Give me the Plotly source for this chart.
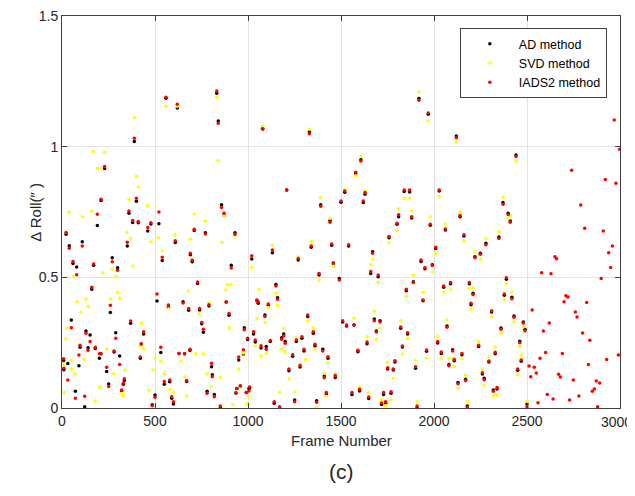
import plotly.graph_objects as go

# AD / IADS2 paired frames (frame, AD value, IADS2 value)
pair_frames = [9, 10, 22, 31, 39, 50, 59, 72, 79, 91, 97, 109, 122, 129, 140, 151, 160, 170, 179, 190,
               201, 209, 210, 229, 240, 251, 260, 270, 280, 289, 299, 310, 321, 330, 335, 351, 360, 369, 380, 389,
               400, 410, 421, 426, 439, 461, 478, 485, 500, 511, 521, 531, 539, 550, 559, 572, 579, 590, 599, 609,
               620, 629, 651, 659, 670, 681, 688, 690, 700, 711, 729, 740, 751, 760, 771, 780, 790, 804, 808, 819,
               832, 840, 851, 858, 871, 883, 898, 910, 930, 935, 940, 950, 959, 975, 980, 991, 998, 1005, 1009, 1020,
               1030, 1039, 1048, 1055, 1070, 1079, 1091, 1098, 1109, 1120, 1131, 1141, 1150, 1159, 1170, 1181, 1192, 1200, 1208, 1220,
               1240, 1251, 1260, 1270, 1280, 1290, 1301, 1321, 1330, 1340, 1351, 1360, 1369, 1382, 1391, 1402, 1410, 1421, 1430, 1441,
               1450, 1459, 1469, 1491, 1500, 1509, 1520, 1530, 1541, 1559, 1570, 1579, 1591, 1600, 1607, 1620, 1629, 1640, 1649, 1660,
               1670, 1679, 1690, 1700, 1710, 1718, 1729, 1740, 1751, 1758, 1769, 1781, 1790, 1801, 1810, 1821, 1830, 1840, 1851, 1858,
               1869, 1880, 1889, 1901, 1909, 1919, 1930, 1941, 1951, 1960, 1969, 1980, 1991, 2009, 2020, 2028, 2039, 2052, 2061, 2070,
               2080, 2089, 2100, 2109, 2120, 2129, 2140, 2150, 2161, 2170, 2179, 2190, 2199, 2210, 2220, 2240, 2249, 2260, 2270, 2279,
               2295, 2310, 2319, 2329, 2339, 2349, 2360, 2371, 2378, 2389, 2399, 2410, 2419, 2430, 2441, 2450, 2461, 2469, 2480, 2489,
               2500]
ad_values = [.182, .146, .665, .170, .621, .337, .553, .064, .540, .162, .232, .636, .005, .295, .231, .279, .454, .546, .228, .698,
             .190, .208, .794, .916, .140, .092, .365, .575, .214, .288, .537, .199, .065, .091, .105, .620, .745, .324, .710, 1.020,
             .791, .709, .190, .245, .283, .677, .704, .012, .050, .409, .705, .212, .564, .091, 1.185, .385, .100, .037, .015, .633,
             1.148, .209, .407, .208, .101, .374, .220, .586, .560, .679, .476, .375, .322, .290, .671, .064, .390, .158, .127, .052,
             1.204, 1.098, .000, .778, .737, .406, .355, .546, .671, .057, .075, .184, .084, .207, .307, .059, .262, .075, .077, .570,
             .283, .253, .410, .401, .230, 1.070, .356, .235, .392, .254, .594, .018, .473, .422, .000, .269, .283, .254, .834, .143,
             .198, .031, .254, .566, .157, .267, .218, .350, 1.056, .615, .286, .237, .028, .509, .778, .225, .122, .052, .190, .717,
             .623, .551, .117, .496, .787, .329, .826, .314, .620, .052, .318, .896, .215, .065, .950, .786, .818, .246, .036, .515,
             .598, .341, .295, .502, .334, .013, .052, .018, .149, .651, .056, .145, .176, .703, .732, .305, .233, .828, .449, .283,
             .827, .727, .483, .152, .001, 1.184, .561, .410, .533, .217, 1.124, .699, .548, .610, .249, .830, .209, .462, .681, .314,
             .166, .475, .223, .181, 1.041, .098, .732, .204, .658, .110, .008, .475, .395, .439, .579, .235, .592, .130, .114, .630,
             .176, .367, .069, .208, .073, .654, .306, .786, .431, .493, .745, .716, .424, .352, .968, .144, .255, .179, .329, .301,
             .015]
iads_values = [.188, .152, .672, .107, .611, .307, .561, .037, .510, .203, .240, .620, .045, .286, .221, .254, .462, .551, .232, .741,
               .208, .208, .799, .924, .156, .082, .393, .560, .218, .267, .527, .166, .069, .095, .112, .634, .754, .333, .717, 1.032,
               .803, .714, .195, .245, .292, .691, .709, .009, .041, .436, .750, .232, .577, .101, 1.189, .394, .107, .043, .024, .640,
               1.162, .209, .402, .208, .105, .381, .225, .592, .565, .684, .482, .381, .327, .301, .666, .056, .395, .171, .120, .043,
               1.213, 1.090, .008, .767, .745, .406, .362, .536, .665, .057, .075, .195, .084, .223, .299, .059, .267, .065, .080, .583,
               .292, .260, .413, .407, .238, 1.067, .350, .225, .398, .258, .605, .024, .467, .416, .005, .263, .276, .248, .834, .149,
               .204, .024, .260, .572, .163, .273, .225, .356, 1.049, .620, .292, .244, .022, .515, .772, .218, .116, .059, .196, .711,
               .628, .556, .124, .490, .792, .334, .830, .318, .625, .059, .318, .902, .221, .072, .945, .792, .825, .253, .042, .522,
               .592, .334, .291, .509, .329, .019, .059, .024, .154, .656, .062, .149, .181, .707, .739, .310, .237, .834, .454, .288,
               .834, .732, .480, .158, .008, 1.178, .566, .413, .537, .222, 1.129, .703, .545, .615, .254, .834, .214, .467, .685, .309,
               .162, .480, .218, .186, 1.034, .093, .737, .209, .663, .105, .003, .480, .401, .434, .575, .240, .588, .135, .108, .625,
               .180, .372, .064, .213, .078, .649, .301, .780, .436, .498, .740, .711, .418, .347, .962, .149, .250, .184, .325, .296,
               .005]

# IADS2 frames beyond the AD / SVD range
iads_extra_frames = [2511, 2520, 2528, 2539, 2550, 2559, 2570, 2579, 2588, 2600, 2609, 2620, 2629, 2640, 2650, 2659, 2670,
                     2679, 2690, 2699, 2709, 2720, 2729, 2740, 2749, 2760, 2769, 2779, 2789, 2799, 2810, 2821, 2830, 2838,
                     2851, 2862, 2872, 2880, 2891, 2899, 2910, 2921, 2928, 2939, 2950, 2959, 2969, 2978, 2991, 2998]
iads_extra_values = [.161, .120, .375, .156, .134, .020, .190, .518, .295, .212, .052, .325, .514, .034, .579, .571, .129,
                     .119, .209, .407, .430, .425, .031, .910, .107, .367, .348, .046, .777, .287, .688, .404, .166, .259,
                     .064, .073, .103, .005, .096, .496, .677, .874, .186, .594, .538, .620, 1.102, .860, .203, .990]

# SVD frames and values
svd_frames = [8, 12, 20, 28, 38, 50, 52, 61, 70, 81, 101, 109, 120, 129, 141, 160, 168, 179, 190, 201,
              211, 219, 229, 240, 262, 270, 278, 290, 299, 310, 321, 330, 339, 348, 360, 369, 380, 389, 400, 410,
              418, 428, 439, 459, 468, 478, 489, 500, 518, 531, 539, 550, 559, 572, 581, 599, 607, 620, 640, 660,
              670, 679, 690, 700, 711, 719, 737, 760, 771, 781, 790, 801, 832, 839, 851, 860, 871, 880, 889, 900,
              908, 918, 930, 950, 959, 975, 990, 1000, 1005, 1020, 1039, 1048, 1059, 1070, 1079, 1091, 1098, 1109, 1131, 1150,
              1159, 1170, 1181, 1192, 1200, 1220, 1251, 1260, 1270, 1280, 1310, 1321, 1330, 1340, 1351, 1360, 1369, 1382, 1389, 1410,
              1421, 1430, 1441, 1459, 1469, 1520, 1570, 1579, 1600, 1607, 1629, 1640, 1649, 1660, 1670, 1679, 1690, 1700, 1710, 1718,
              1740, 1751, 1758, 1769, 1781, 1801, 1808, 1821, 1830, 1840, 1851, 1858, 1869, 1880, 1889, 1901, 1909, 1919, 1941, 1951,
              1960, 1969, 1980, 1991, 2009, 2020, 2028, 2039, 2052, 2061, 2070, 2080, 2089, 2100, 2109, 2120, 2129, 2140, 2150, 2161,
              2170, 2179, 2190, 2199, 2210, 2220, 2240, 2249, 2260, 2270, 2279, 2295, 2310, 2319, 2329, 2339, 2349, 2360, 2371, 2378,
              2389, 2399, 2410, 2419, 2430, 2441, 2450, 2461, 2469, 2480, 2500]
svd_values = [.167, .059, .265, .305, .749, .149, .183, .504, .130, .407, .366, .732, .186, .416, .388, .754, .982, .027, .917, .080,
              .917, .518, .979, .225, .417, .532, .131, .504, .442, .421, .056, .048, .145, .672, .799, .649, .543, 1.112, .887, .846,
              .238, .324, .226, .774, .068, .636, .145, .191, .651, .180, .602, .131, 1.155, .380, .072, .060, .662, 1.155, .180, .120,
              .046, .448, .646, .569, .742, .209, .362, .208, .716, .130, .403, .082, 1.189, .947, .117, .633, .737, .452, .472, .306,
              .473, .013, .660, .149, .080, .210, .013, .018, .042, .538, .236, .342, .454, .200, 1.079, .327, .209, .385, .624, .439,
              .392, .060, .226, .304, .215, .112, .060, .270, .579, .167, .186, .334, 1.068, .636, .306, .226, .002, .490, .805, .133,
              .045, .174, .726, .543, .130, .838, .343, .889, .080, .963, .832, .273, .059, .549, .569, .370, .263, .481, .305, .032,
              .010, .175, .633, .032, .113, .679, .762, .334, .207, .803, .427, .267, .803, .754, .508, .182, .024, 1.209, .443, .540,
              .190, 1.098, .732, .520, .589, .275, .809, .190, .444, .704, .337, .190, .454, .190, .160, 1.019, .075, .751, .188, .640,
              .125, .026, .458, .378, .460, .597, .254, .569, .149, .087, .648, .197, .349, .046, .233, .051, .674, .286, .806, .415,
              .476, .725, .735, .443, .329, .945, .127, .235, .202, .310, .026]

x_ticks = [0, 500, 1000, 1500, 2000, 2500, 3000]
x_tick_labels = ["0", "500", "1000", "1500", "2000", "2500", "3000"]
y_ticks = [0, 0.5, 1, 1.5]
y_tick_labels = ["0", "0.5", "1", "1.5"]

FONT = "Liberation Sans, Arial, sans-serif"
AX = "#262626"

fig = go.Figure()
fig.add_trace(go.Scatter(x=pair_frames, y=ad_values, mode="markers", name="AD method",
                         marker=dict(color="black", size=3.5)))
fig.add_trace(go.Scatter(x=svd_frames, y=svd_values, mode="markers", name="SVD method",
                         marker=dict(color="#FFFF00", size=3.5)))
fig.add_trace(go.Scatter(x=pair_frames + iads_extra_frames, y=iads_values + iads_extra_values, mode="markers",
                         name="IADS2 method", marker=dict(color="#FF0000", size=3.5)))

axis_common = dict(showline=True, linecolor="#404040", linewidth=1, mirror="allticks", ticks="inside", ticklen=5,
                   tickcolor="#404040", showgrid=True, gridcolor="#E3E3E3", gridwidth=1, zeroline=False,
                   automargin=False, ticklabeloverflow="allow",
                   tickfont=dict(family=FONT, size=14, color=AX))
# the last x label sits at the window edge, so it is drawn right-anchored as an annotation
fig.update_xaxes(range=[0, 3000], tickvals=x_ticks, ticktext=x_tick_labels[:-1] + [""], **axis_common)
fig.update_yaxes(range=[0, 1.5], tickvals=y_ticks, ticktext=y_tick_labels, **axis_common)

fig.add_annotation(text=x_tick_labels[-1], xref="paper", yref="paper", x=1.025, y=-0.036, xanchor="right",
                   yanchor="middle", showarrow=False, font=dict(family=FONT, size=14, color=AX))
fig.add_annotation(text="Frame Number", xref="paper", yref="paper", x=0.5, y=-0.084, yanchor="middle",
                   showarrow=False, font=dict(family=FONT, size=15, color=AX))
fig.add_annotation(text="Δ Roll(″ )", xref="paper", yref="paper", x=-0.049, y=0.5, xanchor="center",
                   yanchor="middle", textangle=-90, showarrow=False, font=dict(family=FONT, size=15, color=AX))
fig.add_annotation(text="(c)", xref="paper", yref="paper", x=0.5, y=-0.163, yanchor="middle", showarrow=False,
                   font=dict(family=FONT, size=21, color=AX))

# the page body adds an 8px offset, so the figure is sized to fill the rest of the window
fig.update_layout(
    width=627, height=488,
    margin=dict(l=54, r=15, t=8, b=88),
    plot_bgcolor="white", paper_bgcolor="white",
    showlegend=True,
    legend=dict(x=0.713, y=0.969, xanchor="left", yanchor="top", bgcolor="white",
                bordercolor="#404040", borderwidth=1, font=dict(family=FONT, size=12.5, color="black"),
                itemsizing="trace", itemwidth=48, tracegroupgap=0),
)

fig.write_html("out.html")
